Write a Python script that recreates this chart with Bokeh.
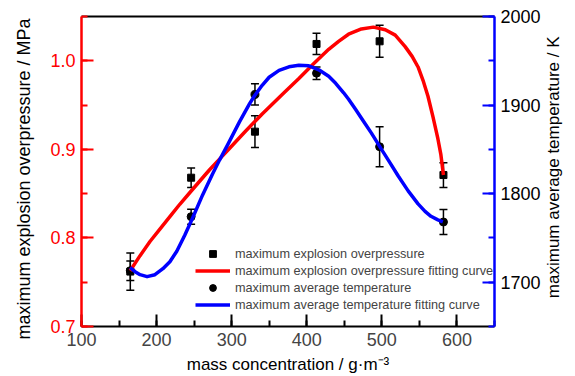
import math
from bokeh.plotting import figure
from bokeh.models import (Range1d, LinearAxis, SingleIntervalTicker, FixedTicker, NumeralTickFormatter,
                          ColumnDataSource, Whisker, TeeHead, Legend, LegendItem)
from bokeh.embed import file_html
from bokeh.resources import INLINE

# ---- data ----
concentration = [165, 246, 331, 413, 497, 582]
overpressure = [0.762, 0.868, 0.920, 1.019, 1.022, 0.871]
overpressure_err = [0.021, 0.011, 0.018, 0.012, 0.018, 0.014]
temperature = [1713, 1774, 1912, 1936, 1853, 1768]
temperature_err = [11, 8.5, 12, 7, 22.5, 14]

# fitting curves
op_fit_x = [164.8, 178.0, 191.2, 204.4, 217.7, 230.9, 244.1, 257.3, 270.6, 283.8,
            297.0, 316.8, 340.6, 369.7, 389.5, 409.4, 429.2, 442.4, 455.6, 472.8,
            488.7, 504.6, 517.8, 531.0, 540.3, 548.2, 554.8, 561.4, 568.0, 574.6,
            578.6, 582.0]
op_fit_y = [0.763, 0.780, 0.796, 0.810, 0.824, 0.838, 0.851, 0.864, 0.877, 0.889,
            0.901, 0.919, 0.940, 0.964, 0.980, 0.997, 1.013, 1.022, 1.030, 1.036,
            1.038, 1.035, 1.029, 1.016, 1.005, 0.993, 0.978, 0.960, 0.937, 0.912,
            0.894, 0.871]
t_fit_x = [164.8, 171.4, 178.0, 187.3, 197.8, 208.4, 217.7, 226.9, 237.5, 248.1,
           261.3, 274.5, 283.8, 294.4, 310.2, 323.5, 330.0, 340.6, 349.9, 363.1,
           376.3, 389.5, 402.8, 416.0, 429.2, 438.5, 449.1, 455.7, 464.9, 475.5,
           486.1, 499.3, 508.6, 521.8, 535.0, 548.2, 557.5, 565.4, 574.6, 581.2]
t_fit_y = [1716.4, 1711.9, 1708.5, 1706.3, 1708.5, 1715.3, 1723.2, 1735.0, 1753.0, 1772.7,
           1798.6, 1822.2, 1837.9, 1854.8, 1880.7, 1901.0, 1910.0, 1922.3, 1931.4, 1939.2,
           1943.2, 1944.9, 1944.3, 1939.8, 1932.5, 1924.6, 1913.9, 1906.6, 1895.3, 1881.8,
           1868.3, 1850.3, 1837.9, 1819.9, 1803.1, 1788.4, 1780.0, 1774.4, 1770.4, 1768.2]

FONT = "Liberation Sans"
left_title = "maximum explosion overpressure / MPa"
right_title = "maximum average temperature / K"

p = figure(width=575, height=376, output_backend="svg", toolbar_location=None,
           x_range=Range1d(100, 650), y_range=Range1d(0.7, 1.05),
           min_border_left=81, min_border_right=78, min_border_top=16, min_border_bottom=49)
p.extra_y_ranges = {"temp": Range1d(1650, 2000)}
p.xgrid.visible = False
p.ygrid.visible = False
p.outline_line_color = None
p.background_fill_color = "white"
p.border_fill_color = "white"

# bottom axis
xa = p.xaxis[0]
xa.ticker = SingleIntervalTicker(interval=100, num_minor_ticks=2)
xa.axis_label = "mass concentration / g·m⁻³"
xa.axis_line_color = "black"
xa.axis_line_width = 2
xa.major_tick_line_color = "black"
xa.minor_tick_line_color = "black"
xa.major_tick_line_width = 2
xa.minor_tick_line_width = 2

# left axis
ya = p.yaxis[0]
ya.ticker = SingleIntervalTicker(interval=0.1, num_minor_ticks=2)
ya.formatter = NumeralTickFormatter(format="0.0")
ya.axis_label = left_title + "\u00a0" * 3
ya.axis_line_color = "red"
ya.axis_line_width = 2.5
ya.major_tick_line_color = "red"
ya.minor_tick_line_color = "red"
ya.major_tick_line_width = 2
ya.minor_tick_line_width = 2
ya.major_label_text_color = "red"

# right axis
ra = LinearAxis(y_range_name="temp",
                ticker=SingleIntervalTicker(interval=100, num_minor_ticks=2))
props = ra.properties()
if "axis_label_orientation" in props and "axis_label_align" in props:
    ra.axis_label = "\u00a0" * 6 + right_title
    ra.axis_label_orientation = math.pi / 2
    ra.axis_label_align = "start"
else:
    ra.axis_label = right_title
ra.axis_line_color = "blue"
ra.axis_line_width = 2.5
ra.major_tick_line_color = "blue"
ra.minor_tick_line_color = "blue"
ra.major_tick_line_width = 2
ra.minor_tick_line_width = 2
ra.major_label_text_color = "black"
p.add_layout(ra, "right")

# top axis (plain line)
ta = LinearAxis(ticker=FixedTicker(ticks=[]), axis_line_width=2, axis_line_color="black")
p.add_layout(ta, "above")

for ax in [xa, ya, ra]:
    ax.major_tick_in = 12
    ax.major_tick_out = 0
    ax.minor_tick_in = 6
    ax.minor_tick_out = 0
    ax.major_label_text_font = FONT
    ax.major_label_text_font_size = "18px"
    ax.axis_label_text_font = FONT
    ax.axis_label_text_font_size = "17px"
    ax.axis_label_text_font_style = "normal"
    ax.axis_label_text_color = "black"
    ax.major_label_standoff = 6
    ax.axis_label_standoff = 6
ya.axis_label_text_font_size = "18px"
ya.axis_label_standoff = 13
ra.axis_label_standoff = 10

# error bars
op_src = ColumnDataSource(dict(
    x=concentration, y=overpressure,
    upper=[v + e for v, e in zip(overpressure, overpressure_err)],
    lower=[v - e for v, e in zip(overpressure, overpressure_err)]))
t_src = ColumnDataSource(dict(
    x=concentration, y=temperature,
    upper=[v + e for v, e in zip(temperature, temperature_err)],
    lower=[v - e for v, e in zip(temperature, temperature_err)]))

w1 = Whisker(base="x", upper="upper", lower="lower", source=op_src, dimension="height",
             line_color="black", line_width=1.5,
             upper_head=TeeHead(size=8, line_color="black", line_width=1.5),
             lower_head=TeeHead(size=8, line_color="black", line_width=1.5))
w2 = Whisker(base="x", upper="upper", lower="lower", source=t_src, dimension="height",
             y_range_name="temp", line_color="black", line_width=1.5,
             upper_head=TeeHead(size=8, line_color="black", line_width=1.5),
             lower_head=TeeHead(size=8, line_color="black", line_width=1.5))
p.add_layout(w1)
p.add_layout(w2)

sq = p.scatter("x", "y", source=op_src, marker="square", size=7, color="black")
ci = p.scatter("x", "y", source=t_src, marker="circle", size=8, color="black", y_range_name="temp")
rl = p.line(op_fit_x, op_fit_y, line_color="#ff0000", line_width=3.5, line_join="round")
bl = p.line(t_fit_x, t_fit_y, line_color="#0000ff", line_width=3.5, line_join="round",
            y_range_name="temp")

legend = Legend(items=[
    LegendItem(label="maximum explosion overpressure", renderers=[sq]),
    LegendItem(label="maximum explosion overpressure fitting curve", renderers=[rl]),
    LegendItem(label="maximum average temperature", renderers=[ci]),
    LegendItem(label="maximum average temperature fitting curve", renderers=[bl]),
], location=(114, 13))
legend.label_text_font = FONT
legend.label_text_font_size = "12.7px"
legend.glyph_width = 35
legend.glyph_height = 17
legend.label_height = 17
legend.spacing = 0
legend.padding = 0
legend.margin = 0
legend.label_standoff = 5
legend.border_line_color = None
legend.background_fill_alpha = 0
p.add_layout(legend)

open("out.html", "w").write(file_html(p, INLINE))
